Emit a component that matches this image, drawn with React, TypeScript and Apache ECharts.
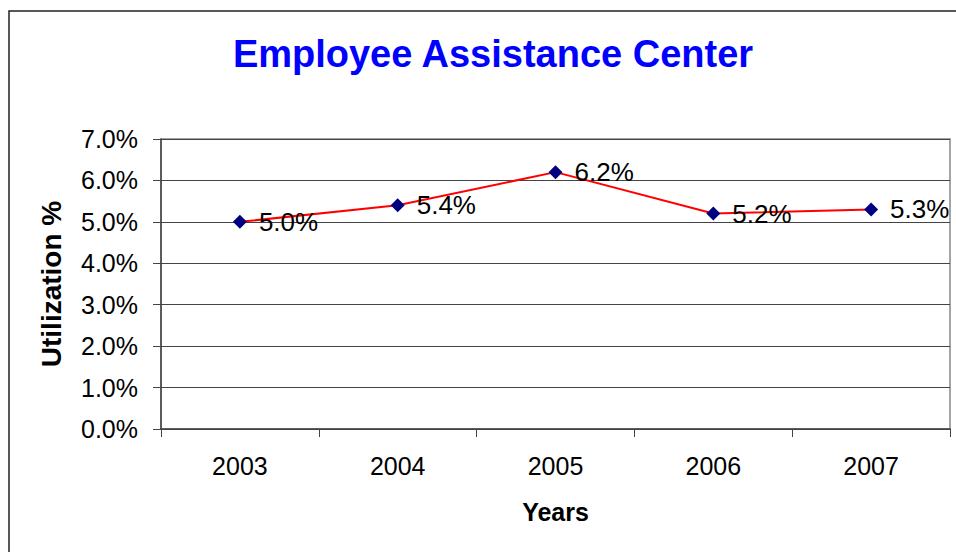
import React, { useEffect, useRef } from "react";
import * as echarts from "echarts";

const years = ["2003", "2004", "2005", "2006", "2007"];
const utilization = [5.0, 5.4, 6.2, 5.2, 5.3];
const titleText = "Employee Assistance Center";
const yName = "Utilization %";
const xName = "Years";

export default function App() {
  const ref = useRef<HTMLDivElement>(null);
  useEffect(() => {
    const chart = echarts.init(ref.current!, null, { renderer: "svg" });
    const font = "'Liberation Sans', Arial, sans-serif";
    chart.setOption({
      animation: false,
      backgroundColor: "#fff",
      textStyle: { fontFamily: font },
      title: {
        text: titleText,
        left: 488,
        top: 30,
        textAlign: "center",
        textStyle: { color: "#0000FF", fontSize: 38, fontWeight: "bold", fontFamily: font },
      },
      graphic: [
        {
          type: "rect",
          shape: { x: 9, y: 11, width: 1100, height: 700 },
          style: { fill: "none", stroke: "#222", lineWidth: 1.5 },
          silent: true,
        },
      ],
      grid: {
        left: 161,
        top: 139,
        width: 789,
        height: 290,
        show: true,
        borderColor: "#888",
        borderWidth: 1.5,
        backgroundColor: "transparent",
      },
      xAxis: {
        type: "category",
        data: years,
        boundaryGap: true,
        name: xName,
        nameLocation: "middle",
        nameGap: 70,
        nameTextStyle: { fontSize: 25, fontWeight: "bold", color: "#000", fontFamily: font },
        axisLine: { show: true, lineStyle: { color: "#444", width: 1.5 } },
        axisTick: { show: true, length: 8, alignWithLabel: false, lineStyle: { color: "#444", width: 1 } },
        axisLabel: { margin: 24, fontSize: 25, color: "#000", fontFamily: font },
      },
      yAxis: {
        type: "value",
        min: 0,
        max: 7,
        interval: 1,
        name: yName,
        nameLocation: "middle",
        nameGap: 96,
        nameTextStyle: { fontSize: 28, fontWeight: "bold", color: "#000", fontFamily: font },
        axisLine: { show: true, lineStyle: { color: "#444", width: 1.5 } },
        axisTick: { show: true, length: 8, inside: false, lineStyle: { color: "#444", width: 1 } },
        axisLabel: {
          margin: 23,
          fontSize: 25,
          color: "#000",
          fontFamily: font,
          formatter: (v: number) => v.toFixed(1) + "%",
        },
        splitLine: { show: true, lineStyle: { color: "#444", width: 1 } },
      },
      series: [
        {
          type: "line",
          data: utilization,
          symbol: "diamond",
          symbolSize: 14,
          itemStyle: { color: "#000080" },
          lineStyle: { color: "#FF0000", width: 2 },
          label: {
            show: true,
            position: "right",
            distance: 12,
            fontSize: 26,
            color: "#000",
            fontFamily: font,
            formatter: (p: any) => p.value.toFixed(1) + "%",
          },
        },
      ],
    });
    return () => chart.dispose();
  }, []);
  return (
    <div
      ref={ref}
      style={{ position: "fixed", left: 0, top: 0, width: 956, height: 552 }}
    />
  );
}
